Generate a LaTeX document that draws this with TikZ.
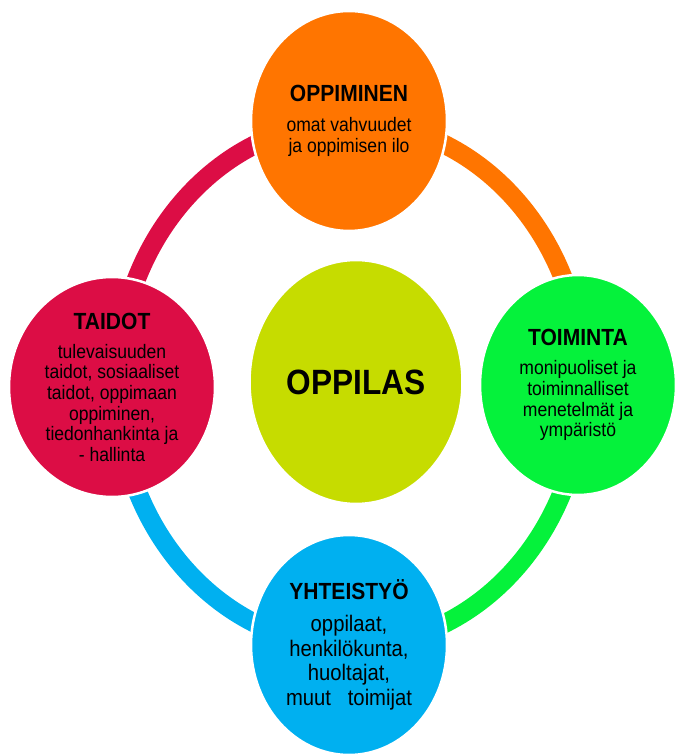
\documentclass[tikz,border=0pt]{standalone}
\usepackage{fontspec}
\setmainfont{Liberation Sans}[FakeStretch=0.9]
\usetikzlibrary{shapes.geometric}

\definecolor{oppOrange}{HTML}{FF7500}
\definecolor{oppRed}{HTML}{DC0D45}
\definecolor{oppGreen}{HTML}{05F23B}
\definecolor{oppBlue}{HTML}{00B0F0}
\definecolor{oppLime}{HTML}{C6DC00}

\begin{document}
\begin{tikzpicture}[x=0.02cm,y=-0.02cm]
  \tikzstyle{every node}=[ellipse,draw=white,line width=0.05cm,inner sep=0pt,
    minimum width=3.92cm,minimum height=4.4cm,align=center,text=black,
    font=\fontsize{11.1}{11.7}\selectfont]
  \tikzstyle{ring}=[line width=0.38cm]

  \useasboundingbox (0,0) rectangle (675,756);
  \clip (0,0) rectangle (675,756);

  % The ring behind the circles
  \coordinate (mid) at (350,384);
  \foreach \from/\to/\col in {-90/0/oppOrange, 0/90/oppGreen, 90/180/oppBlue, 180/270/oppRed} {
    \draw[ring,\col] (mid) ++(\from:233 and 262)
      arc[start angle=\from, end angle=\to, x radius=233, y radius=262];
  }

  % The four circles on the ring
  \node[fill=oppOrange] (oppiminen) at (349,121)
    {{\fontsize{13.3}{15}\selectfont\bfseries OPPIMINEN}\\[5.5pt]omat vahvuudet\\ja oppimisen ilo};
  \node[fill=oppRed,minimum width=4.12cm] (taidot) at (112,387)
    {{\fontsize{13.3}{15}\selectfont\bfseries TAIDOT}\\[5pt]tulevaisuuden\\taidot, sosiaaliset\\taidot, oppimaan\\oppiminen,\\tiedonhankinta ja\\- hallinta};
  \node[fill=oppGreen] (toiminta) at (578,385)
    {{\fontsize{13.3}{15}\selectfont\bfseries TOIMINTA}\\[5pt]monipuoliset ja\\toiminnalliset\\menetelm\"at ja\\ymp\"arist\"o};
  \node[fill=oppBlue,font=\fontsize{12.8}{14}\selectfont] (yhteistyo) at (349,645)
    {{\fontsize{13.3}{15}\selectfont\bfseries YHTEISTY\"O}\\[4pt]oppilaat,\\henkil\"okunta,\\huoltajat,\\muut\ \ \ toimijat};

  % The centre
  \node[fill=oppLime,minimum width=4.26cm,minimum height=4.88cm] (oppilas) at (356,382)
    {\fontsize{20}{24}\selectfont\bfseries OPPILAS};
\end{tikzpicture}
\end{document}
